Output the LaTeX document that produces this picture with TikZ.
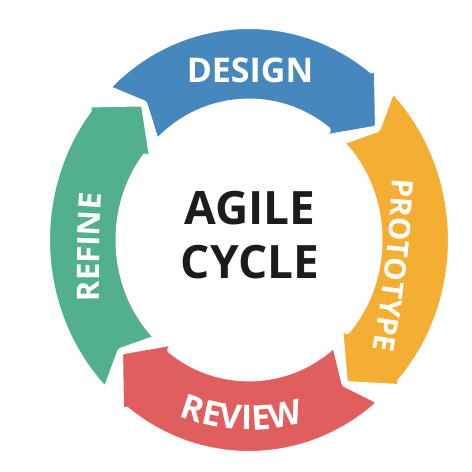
\documentclass[tikz,border=0pt]{standalone}
\usepackage{fontspec}
\setmainfont{Open Sans}
\usetikzlibrary{decorations.text}

\definecolor{designblue}{HTML}{4687BE}
\definecolor{protoyellow}{HTML}{F5AE34}
\definecolor{reviewred}{HTML}{E05E5E}
\definecolor{refinegreen}{HTML}{52B08D}
\definecolor{titleblack}{HTML}{1C1C1C}

\newcommand\bandbig{\bfseries\fontsize{34}{34}\selectfont}
\newcommand\bandmid{\bfseries\fontsize{31}{31}\selectfont}
\newcommand\bandsmall{\bfseries\fontsize{29.5}{29.5}\selectfont}

\begin{document}
\begin{tikzpicture}[x=1pt, y=1pt,
        segment/.style={draw=white, line width=2.5pt, rounded corners=1.5pt},
        bandtext/.style={decorate, decoration={text along path, text align=center, text color=white}},
        title/.style={font=\bfseries\fontsize{46}{54}\selectfont, text=titleblack, align=center}
    ]
    \useasboundingbox (0,0) rectangle (472,472);

    % four arrows running clockwise round the ring
    \begin{scope}[shift={(249,232)}, yscale=1.06]
        \path[segment, fill=designblue] (134:200) arc[start angle=134, end angle=52, radius=200]
            -- (52:205) -- (40:166) -- (52:125) -- (52:132)
            arc[start angle=52, end angle=134, radius=132] -- (128.5:166) -- cycle;
        \path[segment, fill=protoyellow] (44:200) arc[start angle=44, end angle=-42, radius=200]
            -- (-42:205) -- (-54:166) -- (-42:125) -- (-42:132)
            arc[start angle=-42, end angle=44, radius=132] -- (38.5:166) -- cycle;
        \path[segment, fill=reviewred] (-50:200) arc[start angle=-50, end angle=-128, radius=200]
            -- (-128:205) -- (-140:166) -- (-128:125) -- (-128:132)
            arc[start angle=-128, end angle=-50, radius=132] -- (-55.5:166) -- cycle;
        \path[segment, fill=refinegreen] (224:200) arc[start angle=224, end angle=142, radius=200]
            -- (142:205) -- (130:166) -- (142:125) -- (142:132)
            arc[start angle=142, end angle=224, radius=132] -- (218.5:166) -- cycle;
    \end{scope}

    % labels on the arrows
    \node[font=\bandbig, text=white] (design) at (250,402) {DESIGN};
    \path[bandtext, decoration={text={|\bandsmall|PROTOTYPE}}]
        (394,316) .. controls (391,243) and (383,173) .. (369,100);
    \begin{scope}[shift={(249,232)}]
        \path[bandtext, decoration={text={|\bandbig|REVIEW}}]
            (-140:190) arc[start angle=-140, end angle=-45, radius=190];
    \end{scope}
    \path[bandtext, decoration={text={|\bandmid|REFINE}}]
        (100,152) .. controls (98,200) and (99,250) .. (104,297);

    \node[title] (agile) at (250,237) {AGILE\\CYCLE};
\end{tikzpicture}
\end{document}
